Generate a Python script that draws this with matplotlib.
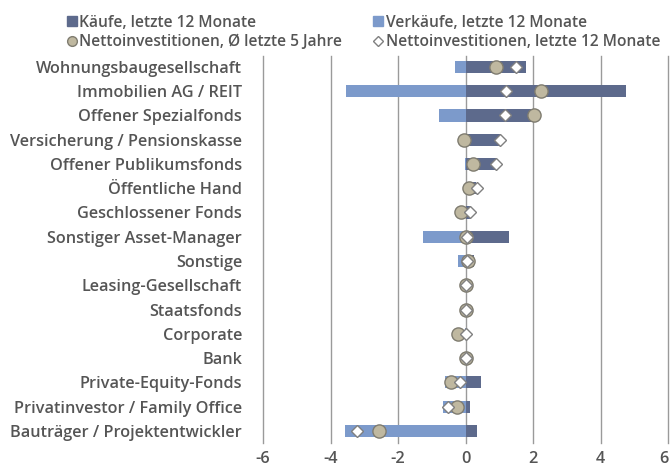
import matplotlib
matplotlib.use("Agg")
import matplotlib.pyplot as plt
from matplotlib.lines import Line2D
import numpy as np

categories = ["Wohnungsbaugesellschaft", "Immobilien AG / REIT", "Offener Spezialfonds",
              "Versicherung / Pensionskasse", "Offener Publikumsfonds", "Öffentliche Hand",
              "Geschlossener Fonds", "Sonstiger Asset-Manager", "Sonstige", "Leasing-Gesellschaft",
              "Staatsfonds", "Corporate", "Bank", "Private-Equity-Fonds",
              "Privatinvestor / Family Office", "Bauträger / Projektentwickler"]
kaeufe = [1.80, 4.75, 2.00, 1.06, 0.91, 0.32, 0.17, 1.29, 0.25, 0.0, 0.0, 0.0, 0.0, 0.47, 0.14, 0.34]
verkaeufe = [-0.31, -3.53, -0.79, -0.02, -0.02, 0.0, 0.0, -1.25, -0.21, 0.0, 0.0, -0.02, 0.0, -0.62, -0.67, -3.56]
netto_5j = [0.91, 2.25, 2.03, -0.05, 0.22, 0.09, -0.13, 0.02, 0.07, 0.0, 0.0, -0.23, 0.0, -0.44, -0.26, -2.56]
netto_12m = [1.50, 1.21, 1.17, 1.03, 0.89, 0.33, 0.14, 0.05, 0.05, 0.0, 0.0, 0.0, 0.0, -0.16, -0.51, -3.22]
xticks = [-6, -4, -2, 0, 2, 4, 6]

C_K = "#5d6a8c"
C_V = "#7c9acb"
C_C = "#bfb8a0"
C_CE = "#7f7c70"
C_D = "#808080"
TXT = "#555555"

plt.rcParams['font.family'] = ['Open Sans', 'DejaVu Sans']
FW = 600
FS = 11.7
LFS = 11.2

fig = plt.figure(figsize=(6.71, 4.71), dpi=100)
W, H = 671, 471
left, right, top, bottom = 263, 668, 56, 443
ax = fig.add_axes([left / W, 1 - bottom / H, (right - left) / W, (bottom - top) / H])

y = np.arange(len(categories))
for xv in xticks:
    ax.axvline(xv, color="#9a9a9a", lw=1.0, zorder=0, clip_on=False)
ax.barh(y, kaeufe, height=0.5, color=C_K, zorder=2)
ax.barh(y, verkaeufe, height=0.5, color=C_V, zorder=2)
ax.plot(netto_5j, y, 'o', ms=9.5, mfc=C_C, mec=C_CE, mew=1.0, ls='none', zorder=3)
ax.plot(netto_12m, y, 'D', ms=6.5, mfc='white', mec=C_D, mew=1.0, ls='none', zorder=4)

ax.set_xlim(-6, 6)
ax.set_ylim(len(categories) - 0.5, -0.45)
ax.set_yticks(y)
ax.set_yticklabels(categories)
ax.set_xticks(xticks)
ax.set_xticklabels([str(v) for v in xticks])
for s in ax.spines.values():
    s.set_visible(False)
ax.tick_params(axis='y', length=0, pad=15, labelsize=FS, labelcolor=TXT)
ax.tick_params(axis='x', length=0, pad=6, labelsize=FS, labelcolor=TXT)
for lab in ax.get_yticklabels() + ax.get_xticklabels():
    lab.set_fontweight(FW)
ax.get_xticklabels()[-1].set_horizontalalignment('right')

h_k = Line2D([], [], marker='s', ls='none', ms=6.5, mfc=C_K, mec=C_K)
h_v = Line2D([], [], marker='s', ls='none', ms=6.5, mfc=C_V, mec=C_V)
h_c = Line2D([], [], marker='o', ls='none', ms=7, mfc=C_C, mec=C_CE)
h_d = Line2D([], [], marker='D', ls='none', ms=5, mfc='white', mec=C_D)
handles = [h_k, h_c, h_v, h_d]
labels = ["Käufe, letzte 12 Monate", "Nettoinvestitionen, Ø letzte 5 Jahre",
          "Verkäufe, letzte 12 Monate", "Nettoinvestitionen, letzte 12 Monate"]
leg = fig.legend(handles, labels, ncol=2, loc='upper left', bbox_to_anchor=(56 / W, 1 - 4 / H),
                 frameon=False, handlelength=0.6, handletextpad=0.2, columnspacing=2.0,
                 labelspacing=0.2, borderpad=0.2, prop={'size': LFS, 'weight': FW})
for t in leg.get_texts():
    t.set_color(TXT)

fig.savefig("out.png", dpi=100)
